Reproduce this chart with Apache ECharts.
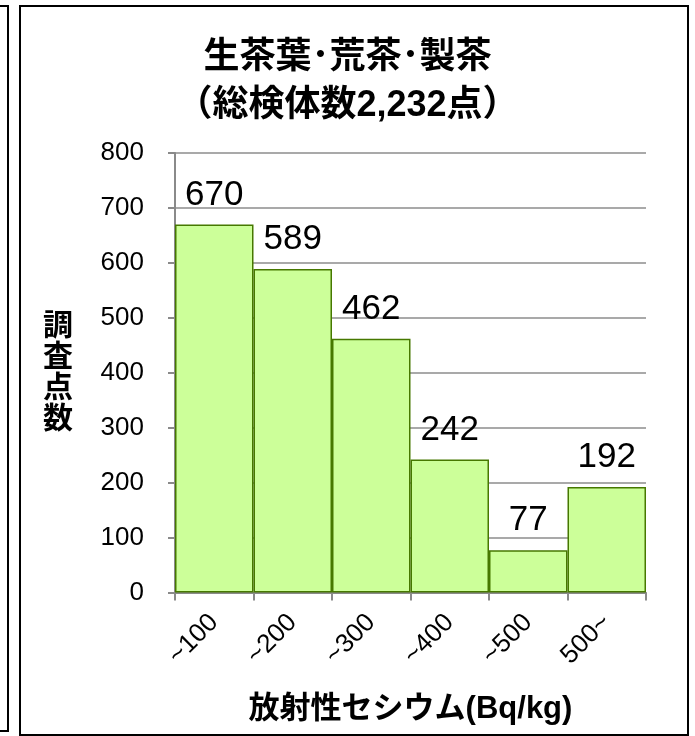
<!DOCTYPE html>
<html>
<head>
<meta charset="utf-8">
<script src="https://cdn.jsdelivr.net/npm/echarts@6/dist/echarts.min.js"></script>
<style>
html,body{margin:0;padding:0;background:#fff;}
#c{width:695px;height:736px;}
</style>
</head>
<body>
<div id="c"></div>
<script>
const titleLines = ['生茶葉･荒茶･製茶', '（総検体数2,232点）'];
const categories = ['~100', '~200', '~300', '~400', '~500', '500~'];
const counts = [670, 589, 462, 242, 77, 192];
const yTicks = { min: 0, max: 800, interval: 100 };
const yName = '調査点数';
const xName = '放射性セシウム(Bq/kg)';

const FONT = '"Liberation Sans", Arial, "Noto Sans CJK JP", sans-serif';
const chart = echarts.init(document.getElementById('c'), null, { renderer: 'canvas' });

chart.setOption({
  backgroundColor: '#ffffff',
  animation: false,
  title: {
    text: titleLines.join('\n'),
    left: 'center',
    top: 29,
    textStyle: { fontFamily: FONT, fontSize: 36, fontWeight: 'bold', color: '#000', lineHeight: 48 }
  },
  graphic: [
    { type: 'rect', shape: { x: -10, y: 6, width: 18, height: 725 }, style: { fill: 'none', stroke: '#000', lineWidth: 2 } },
    { type: 'rect', shape: { x: 20, y: 6, width: 668, height: 729 }, style: { fill: 'none', stroke: '#000', lineWidth: 2 } }
  ],
  grid: { left: 175, right: 49, top: 153, bottom: 143.5 },
  xAxis: {
    type: 'category',
    data: categories,
    boundaryGap: true,
    name: xName,
    nameLocation: 'middle',
    nameGap: 101,
    nameTextStyle: { fontFamily: FONT, fontSize: 31, fontWeight: 'bold', color: '#000' },
    axisLine: { show: true, lineStyle: { color: '#8a8a8a', width: 2 } },
    axisTick: { show: true, length: 8, interval: 0, lineStyle: { color: '#8a8a8a', width: 2 } },
    axisLabel: { interval: 0, rotate: 45, margin: 26, fontFamily: FONT, fontSize: 26, color: '#000' }
  },
  yAxis: {
    type: 'value',
    min: yTicks.min,
    max: yTicks.max,
    interval: yTicks.interval,
    name: yName.split('').join('\n'),
    nameLocation: 'middle',
    nameRotate: 0,
    nameGap: 102,
    nameTextStyle: { fontFamily: FONT, fontSize: 30, fontWeight: 'bold', color: '#000', lineHeight: 31, padding: [14, 0, 0, 0] },
    axisLine: { show: true, lineStyle: { color: '#8a8a8a', width: 2 } },
    axisTick: { show: true, length: 7, lineStyle: { color: '#8a8a8a', width: 2 } },
    axisLabel: { margin: 31, fontFamily: FONT, fontSize: 26, color: '#000' },
    splitLine: { show: true, lineStyle: { color: '#8c8c8c', width: 1.5 } }
  },
  series: [{
    type: 'bar',
    data: counts,
    barCategoryGap: '0%',
    itemStyle: { color: '#CCFF99', borderColor: '#467800', borderWidth: 1.5 },
    label: { show: true, position: 'top', distance: 12, fontFamily: FONT, fontSize: 35, color: '#000' }
  }]
});
</script>
</body>
</html>
